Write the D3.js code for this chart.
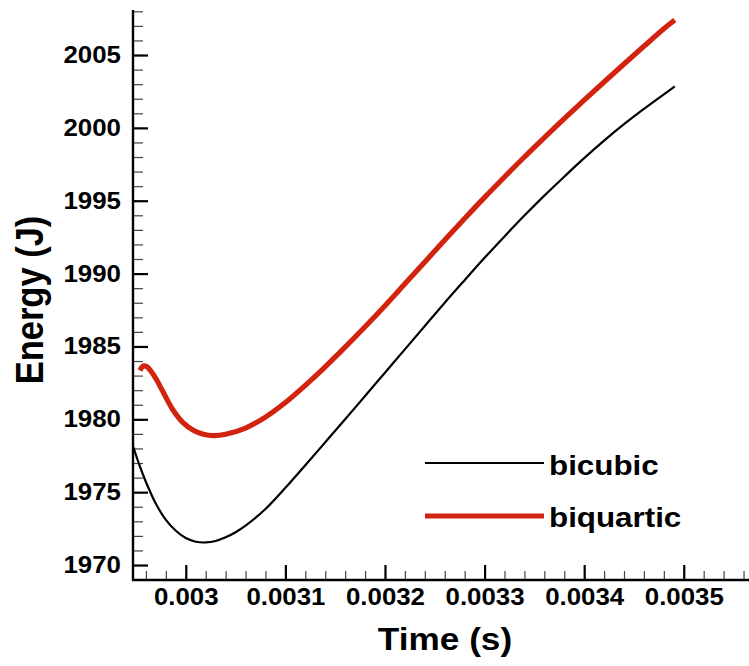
<!DOCTYPE html>
<html>
<head>
<meta charset="utf-8">
<script src="https://cdn.jsdelivr.net/npm/d3@7"></script>
<style>
  html, body { margin: 0; padding: 0; background: #fff; }
  svg { display: block; }
  text { font-family: "Liberation Sans", Arial, Helvetica, sans-serif; font-weight: bold; fill: #000; }
</style>
</head>
<body>
<svg id="chart" width="749" height="666"></svg>
<script>
// Energy history for the two element formulations
const timeBicubic = [0.0029473, 0.002954, 0.00296, 0.00297, 0.00298, 0.00299, 0.003, 0.00301,
  0.00302, 0.00303, 0.00304, 0.00305, 0.00306, 0.00308, 0.0031, 0.00312, 0.00314, 0.00316,
  0.00318, 0.0032, 0.00322, 0.00324, 0.00326, 0.00328, 0.0033, 0.00332, 0.00334, 0.00336,
  0.00338, 0.0034, 0.00342, 0.00344, 0.00346, 0.00348, 0.003491];
const energyBicubic = [1978.1, 1976.75, 1975.7, 1974.2, 1973.1, 1972.35, 1971.85, 1971.6,
  1971.55, 1971.65, 1971.9, 1972.25, 1972.7, 1973.85, 1975.3, 1976.85, 1978.42, 1980.0,
  1981.6, 1983.2, 1984.8, 1986.4, 1988.0, 1989.55, 1991.08, 1992.55, 1993.98, 1995.35,
  1996.65, 1997.92, 1999.12, 2000.25, 2001.3, 2002.3, 2002.85];

const timeBiquartic = [0.002954, 0.0029573, 0.0029611, 0.0029651, 0.0029708, 0.0029774, 0.0029875,
  0.0029975, 0.0030075, 0.0030176, 0.0030276, 0.00304, 0.00306, 0.00308, 0.0031, 0.00312,
  0.00314, 0.00316, 0.00318, 0.0032, 0.00322, 0.00324, 0.00326, 0.00328, 0.0033, 0.00332,
  0.00334, 0.00336, 0.00338, 0.0034, 0.00342, 0.00344, 0.00346, 0.00348, 0.003491];
const energyBiquartic = [1983.35, 1983.66, 1983.6, 1983.3, 1982.7, 1981.85, 1980.6,
  1979.75, 1979.25, 1978.98, 1978.88, 1978.97, 1979.4, 1980.15, 1981.15, 1982.33,
  1983.6, 1984.95, 1986.35, 1987.8, 1989.3, 1990.8, 1992.3, 1993.78, 1995.23, 1996.63,
  1998.0, 1999.33, 2000.63, 2001.9, 2003.15, 2004.38, 2005.6, 2006.8, 2007.4];

const seriesNames = ["bicubic", "biquartic"];
const seriesColors = ["#000000", "#d2230f"];

const xTickValues = [0.003, 0.0031, 0.0032, 0.0033, 0.0034, 0.0035];
const xTickLabels = ["0.003", "0.0031", "0.0032", "0.0033", "0.0034", "0.0035"];
const yTickValues = [1970, 1975, 1980, 1985, 1990, 1995, 2000, 2005];
const yTickLabels = ["1970", "1975", "1980", "1985", "1990", "1995", "2000", "2005"];

const xTitle = "Time (s)";
const yTitle = "Energy (J)";

const svg = d3.select("#chart");

const x = d3.scaleLinear().domain([0.002947, 0.003565]).range([133, 748.5]);
const y = d3.scaleLinear().domain([1969, 2008]).range([579.6, 11.3]);

const stretch = 1.1;

// ---- minor ticks ----
const xMinor = d3.range(0, 31).map(i => +(0.00296 + i * 0.00002).toFixed(6)).filter(v => v <= 0.003565);
const yMinor = d3.range(1969, 2009);

svg.append("g")
  .attr("transform", "translate(0,580)")
  .call(d3.axisBottom(x).tickValues(xMinor).tickSizeInner(-9).tickSizeOuter(0).tickFormat(""))
  .call(g => g.select(".domain").remove())
  .call(g => g.selectAll("line").attr("stroke", "#444").attr("stroke-width", 1.2));

svg.append("g")
  .attr("transform", "translate(133,0)")
  .call(d3.axisLeft(y).tickValues(yMinor).tickSizeInner(-10).tickSizeOuter(0).tickFormat(""))
  .call(g => g.select(".domain").remove())
  .call(g => g.selectAll("line").attr("stroke", "#444").attr("stroke-width", 1.2));

// ---- major ticks with labels ----
svg.append("g")
  .attr("transform", "translate(0,580)")
  .call(d3.axisBottom(x).tickValues(xTickValues).tickSizeInner(-15).tickSizeOuter(0)
    .tickPadding(8.5).tickFormat((d, i) => xTickLabels[i]))
  .call(g => g.select(".domain").remove())
  .call(g => g.selectAll("line").attr("stroke", "#000").attr("stroke-width", 2.2))
  .call(g => g.selectAll("text")
    .attr("font-size", 23.5)
    .attr("font-family", null)
    .attr("transform", `scale(${stretch},1)`));

svg.append("g")
  .attr("transform", "translate(133,0)")
  .call(d3.axisLeft(y).tickValues(yTickValues).tickSizeInner(-15).tickSizeOuter(0)
    .tickPadding(11).tickFormat((d, i) => yTickLabels[i]))
  .call(g => g.select(".domain").remove())
  .call(g => g.selectAll("line").attr("stroke", "#000").attr("stroke-width", 2.2))
  .call(g => g.selectAll("text")
    .attr("font-size", 23.5)
    .attr("font-family", null)
    .attr("transform", `scale(${stretch},1)`));

// ---- spines ----
svg.append("line").attr("x1", 133).attr("x2", 133).attr("y1", 10).attr("y2", 581)
  .attr("stroke", "#000").attr("stroke-width", 2.4);
svg.append("line").attr("x1", 132).attr("x2", 749).attr("y1", 580).attr("y2", 580)
  .attr("stroke", "#000").attr("stroke-width", 2.4);

// ---- curves ----
const line = d3.line().x(d => x(d[0])).y(d => y(d[1])).curve(d3.curveCatmullRom.alpha(0.5));

svg.append("path")
  .datum(d3.zip(timeBicubic, energyBicubic))
  .attr("d", line)
  .attr("fill", "none")
  .attr("stroke", seriesColors[0])
  .attr("stroke-width", 2.2);

svg.append("path")
  .datum(d3.zip(timeBiquartic, energyBiquartic))
  .attr("d", line)
  .attr("fill", "none")
  .attr("stroke", seriesColors[1])
  .attr("stroke-width", 5.2)
  .attr("stroke-linejoin", "round");

// ---- legend ----
const legendRows = [
  { name: seriesNames[0], color: seriesColors[0], width: 2.2, ly: 463, ty: 475 },
  { name: seriesNames[1], color: seriesColors[1], width: 5.2, ly: 516, ty: 527 }
];
const legend = svg.append("g");
legendRows.forEach(r => {
  legend.append("line").attr("x1", 425).attr("x2", 544).attr("y1", r.ly).attr("y2", r.ly)
    .attr("stroke", r.color).attr("stroke-width", r.width);
  legend.append("text")
    .attr("transform", `translate(549,${r.ty}) scale(${stretch},1)`)
    .attr("font-size", 28.5)
    .text(r.name);
});

// ---- axis titles ----
svg.append("text")
  .attr("transform", `translate(445,650) scale(${stretch},1)`)
  .attr("text-anchor", "middle")
  .attr("font-size", 32)
  .text(xTitle);

svg.append("text")
  .attr("transform", `translate(43,300) scale(1.12,1) rotate(-90)`)
  .attr("text-anchor", "middle")
  .attr("font-size", 34.5)
  .text(yTitle);
</script>
</body>
</html>
